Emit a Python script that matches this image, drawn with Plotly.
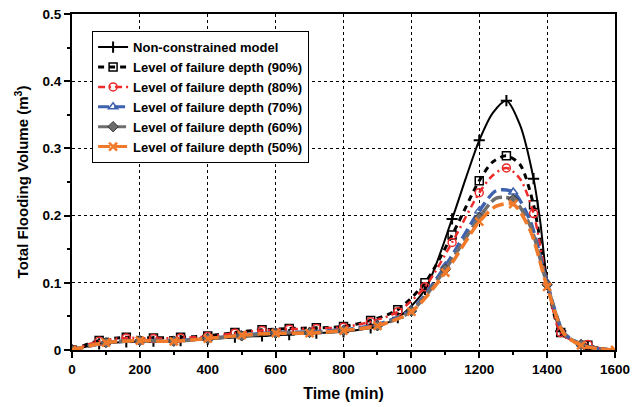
import plotly.graph_objects as go

# ---------------- data ----------------
NAMES = ["Non-constrained model", "Level of failure depth (90%)", "Level of failure depth (80%)",
         "Level of failure depth (70%)", "Level of failure depth (60%)", "Level of failure depth (50%)"]

# Non-constrained model (line points)
t_nc = [0, 80, 160, 240, 320, 400, 480, 560, 640, 720, 800, 880, 960, 1040, 1120, 1160, 1200, 1240,
        1280, 1320, 1360, 1380, 1400, 1440, 1480, 1520, 1560, 1600]
v_nc = [0, 0.009, 0.012, 0.013, 0.014, 0.016, 0.019, 0.021, 0.023, 0.025, 0.027, 0.033, 0.048, 0.090,
        0.195, 0.255, 0.312, 0.353, 0.371, 0.335, 0.255, 0.190, 0.105, 0.028, 0.013, 0.006, 0.002, 0]
m_nc = [0, 80, 160, 240, 320, 400, 480, 560, 640, 720, 800, 880, 960, 1040, 1120, 1200, 1280, 1360, 1440, 1520]

# 90 %
t_90 = [0, 80, 160, 240, 320, 400, 480, 560, 640, 720, 800, 880, 960, 1040, 1120, 1200, 1240, 1280,
        1320, 1360, 1400, 1440, 1480, 1520, 1560, 1600]
v_90 = [0, 0.014, 0.019, 0.018, 0.019, 0.021, 0.026, 0.030, 0.032, 0.033, 0.035, 0.044, 0.060, 0.100,
        0.171, 0.252, 0.280, 0.289, 0.276, 0.216, 0.100, 0.026, 0.013, 0.007, 0.002, 0]
m_90 = [0, 80, 160, 240, 320, 400, 480, 560, 640, 720, 800, 880, 960, 1040, 1120, 1200, 1280, 1360, 1440, 1520]

# 80 %
t_80 = [0, 80, 160, 240, 320, 400, 480, 560, 640, 720, 800, 880, 960, 1040, 1120, 1200, 1240, 1280,
        1320, 1360, 1400, 1440, 1480, 1520, 1560, 1600]
v_80 = [0, 0.013, 0.018, 0.017, 0.018, 0.020, 0.025, 0.029, 0.031, 0.032, 0.034, 0.042, 0.057, 0.094,
        0.160, 0.234, 0.260, 0.271, 0.255, 0.203, 0.100, 0.026, 0.013, 0.008, 0.002, 0]
m_80 = [0, 80, 160, 240, 320, 400, 480, 560, 640, 720, 800, 880, 960, 1040, 1120, 1200, 1280, 1360, 1440, 1520]

# 70 %
t_70 = [0, 100, 200, 300, 400, 500, 600, 700, 800, 900, 1000, 1100, 1200, 1250, 1300, 1350, 1400,
        1450, 1500, 1550, 1600]
v_70 = [0, 0.011, 0.014, 0.014, 0.017, 0.022, 0.026, 0.027, 0.030, 0.038, 0.060, 0.125, 0.207, 0.237,
        0.235, 0.192, 0.100, 0.025, 0.009, 0.002, 0]
m_70 = [0, 100, 200, 300, 400, 500, 600, 700, 800, 900, 1000, 1100, 1200, 1300, 1400, 1500]

# 60 %
t_60 = [0, 100, 200, 300, 400, 500, 600, 700, 800, 900, 1000, 1100, 1200, 1250, 1300, 1350, 1400,
        1450, 1500, 1550, 1600]
v_60 = [0, 0.011, 0.014, 0.013, 0.017, 0.021, 0.025, 0.026, 0.029, 0.036, 0.058, 0.120, 0.197, 0.226,
        0.224, 0.185, 0.097, 0.025, 0.008, 0.002, 0]
m_60 = [0, 100, 200, 300, 400, 500, 600, 700, 800, 900, 1000, 1100, 1200, 1300, 1400, 1500]

# 50 %
t_50 = [0, 100, 200, 300, 400, 500, 600, 700, 800, 900, 1000, 1100, 1200, 1250, 1300, 1350, 1400,
        1450, 1500, 1550, 1600]
v_50 = [0, 0.011, 0.014, 0.013, 0.017, 0.022, 0.025, 0.025, 0.029, 0.036, 0.057, 0.115, 0.191, 0.214,
        0.217, 0.178, 0.094, 0.024, 0.007, 0.002, 0]
m_50 = [0, 100, 200, 300, 400, 500, 600, 700, 800, 900, 1000, 1100, 1200, 1300, 1400, 1500, 1600]

X_TICKS = [0, 200, 400, 600, 800, 1000, 1200, 1400, 1600]
Y_TICKS = [0, 0.1, 0.2, 0.3, 0.4, 0.5]
Y_TICK_LABELS = ["0", "0.1", "0.2", "0.3", "0.4", "0.5"]

# ---------------- styles ----------------
STYLES = [
    dict(color="#000000", width=2, dash="solid",
         marker=dict(symbol="cross-thin-open", size=8, color="#000000", line=dict(width=2, color="#000000"))),
    dict(color="#000000", width=3, dash="6px,5px",
         marker=dict(symbol="square-open", size=8, color="#000000", line=dict(width=1.5, color="#000000"))),
    dict(color="#EE2B2B", width=2.5, dash="7px,4px,2px,4px",
         marker=dict(symbol="circle-open", size=8, color="#EE2B2B", line=dict(width=1.5, color="#EE2B2B"))),
    dict(color="#3F62AE", width=3.5, dash="11px,5px",
         marker=dict(symbol="triangle-up-open", size=8, color="#3F62AE", line=dict(width=1.5, color="#3F62AE"))),
    dict(color="#6E6E6E", width=3.5, dash="12px,4px",
         marker=dict(symbol="diamond", size=8, color="#6E6E6E", line=dict(width=1, color="#333333"))),
    dict(color="#F07A2A", width=3.5, dash="12px,5px",
         marker=dict(symbol="x-thin-open", size=8, color="#F07A2A", line=dict(width=2.5, color="#F07A2A"))),
]

SERIES = [(t_nc, v_nc, m_nc), (t_90, v_90, m_90), (t_80, v_80, m_80),
          (t_70, v_70, m_70), (t_60, v_60, m_60), (t_50, v_50, m_50)]

fig = go.Figure()
for i, ((ts, vs, ms), st, name) in enumerate(zip(SERIES, STYLES, NAMES)):
    lookup = dict(zip(ts, vs))
    fig.add_trace(go.Scatter(x=ts, y=vs, mode="lines", line=dict(color=st["color"], width=st["width"],
                             dash=st["dash"], shape="spline", smoothing=0.8),
                             legendgroup=str(i), showlegend=False, hoverinfo="skip"))
    fig.add_trace(go.Scatter(x=ms, y=[lookup[m] for m in ms], mode="markers", marker=st["marker"],
                             legendgroup=str(i), showlegend=False, hoverinfo="skip"))
for i, (st, name) in enumerate(zip(STYLES, NAMES)):
    fig.add_trace(go.Scatter(x=[None], y=[None], mode="lines+markers", name=name,
                             line=dict(color=st["color"], width=min(st["width"], 3), dash=st["dash"]),
                             marker=st["marker"], legendgroup=str(i), hoverinfo="skip"))

FONT = "Liberation Sans, Arial, sans-serif"
axis_common = dict(
    showline=True, linecolor="black", linewidth=2, mirror=True,
    ticks="outside", tickcolor="black", tickwidth=2, ticklen=6,
    showgrid=True, gridcolor="black", griddash="3px,3px", gridwidth=1,
    zeroline=False, automargin=False,
    tickfont=dict(family=FONT, size=13.5, color="black", weight="bold"),
)

fig.update_xaxes(range=[0, 1600], tickvals=X_TICKS, **axis_common,
                 minor=dict(dtick=100, ticks="outside", ticklen=3, tickwidth=1.5, tickcolor="black", showgrid=False),
                 title=dict(text="Time (min)", font=dict(family=FONT, size=16, color="black", weight="bold"),
                            standoff=12))
fig.update_yaxes(range=[0, 0.5], tickvals=Y_TICKS, ticktext=Y_TICK_LABELS, **axis_common,
                 minor=dict(dtick=0.05, ticks="outside", ticklen=3, tickwidth=1.5, tickcolor="black", showgrid=False),
                 title=dict(text="Total Flooding Volume (m<sup>3</sup>)",
                            font=dict(family=FONT, size=15, color="black", weight="bold"), standoff=10))

# legend shadow
fig.add_shape(type="rect", xref="paper", yref="paper", x0=0.042, x1=0.4346, y0=0.5655, y1=0.944,
              fillcolor="#555555", line=dict(width=0), layer="above")

fig.update_layout(
    width=639, height=407,
    margin=dict(l=72, r=24, t=14, b=57),
    paper_bgcolor="white", plot_bgcolor="white",
    font=dict(family=FONT, color="black"),
    legend=dict(x=0.037, y=0.949, xanchor="left", yanchor="top",
                bgcolor="white", bordercolor="black", borderwidth=1,
                font=dict(family=FONT, size=13, color="black", weight="bold"),
                itemwidth=30, tracegroupgap=0),
    showlegend=True,
    hovermode=False,
)

fig.write_html("out.html", config={"displayModeBar": False},
               post_script="document.body.style.margin='0px';")
